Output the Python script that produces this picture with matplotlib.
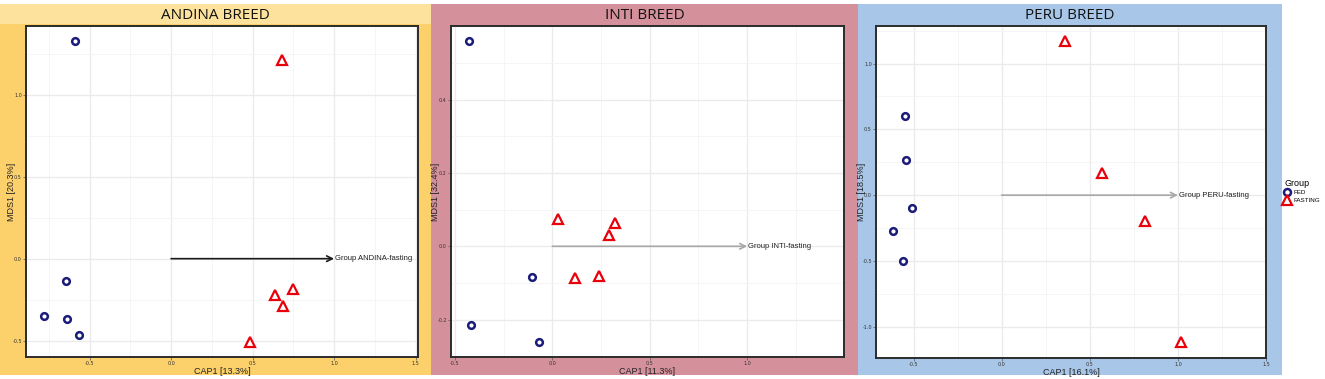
import matplotlib
matplotlib.use("Agg")
import matplotlib.pyplot as plt
from matplotlib.patches import Rectangle
from matplotlib.lines import Line2D
import numpy as np

W, H = 1325, 379

# data
breeds = ["ANDINA", "INTI", "PERU"]
cap_pct = ["13.3%", "11.3%", "16.1%"]
mds_pct = ["20.3%", "32.4%", "18.5%"]

andina_fed_x = [-0.589, -0.644, -0.781, -0.638, -0.566]
andina_fed_y = [1.327, -0.138, -0.352, -0.370, -0.465]
andina_fast_x = [0.683, 0.638, 0.746, 0.687, 0.487]
andina_fast_y = [1.215, -0.222, -0.187, -0.289, -0.506]

inti_fed_x = [-0.429, -0.106, -0.419, -0.068]
inti_fed_y = [0.559, -0.083, -0.214, -0.262]
inti_fast_x = [0.031, 0.320, 0.292, 0.116, 0.238]
inti_fast_y = [0.074, 0.063, 0.031, -0.087, -0.081]

peru_fed_x = [-0.549, -0.543, -0.511, -0.615, -0.562]
peru_fed_y = [0.603, 0.264, -0.097, -0.274, -0.500]
peru_fast_x = [0.361, 0.567, 0.813, 1.019]
peru_fast_y = [1.170, 0.168, -0.197, -1.115]

arrow_len = [1.0, 1.0, 1.0]

panels = [
    dict(fed=(andina_fed_x, andina_fed_y), fast=(andina_fast_x, andina_fast_y),
         bg=(0, 431), ax=(26, 26, 418, 357), xlim=(-0.89, 1.515), ylim=(-0.60, 1.42),
         xt=[-0.5, 0.0, 0.5, 1.0, 1.5], yt=[-0.5, 0.0, 0.5, 1.0],
         color="#FCD06A", strip="#FDE29E", arrow="#1a1a1a"),
    dict(fed=(inti_fed_x, inti_fed_y), fast=(inti_fast_x, inti_fast_y),
         bg=(431, 858), ax=(451, 26, 844, 357), xlim=(-0.52, 1.497), ylim=(-0.302, 0.601),
         xt=[-0.5, 0.0, 0.5, 1.0], yt=[-0.2, 0.0, 0.2, 0.4],
         color="#D4909B", strip="#D4909B", arrow="#A8A8A8"),
    dict(fed=(peru_fed_x, peru_fed_y), fast=(peru_fast_x, peru_fast_y),
         bg=(858, 1282), ax=(876, 26, 1266, 358), xlim=(-0.713, 1.5), ylim=(-1.237, 1.285),
         xt=[-0.5, 0.0, 0.5, 1.0, 1.5], yt=[-1.0, -0.5, 0.0, 0.5, 1.0],
         color="#A7C6E8", strip="#A7C6E8", arrow="#A8A8A8"),
]

fed_col = "#1B1B7A"
fast_col = "#E8000B"


def px_rect(x0, y0, x1, y1):
    return [x0 / W, 1 - y1 / H, (x1 - x0) / W, (y1 - y0) / H]


fig = plt.figure(figsize=(W / 100, H / 100), dpi=100)
fig.patch.set_facecolor("white")

for i, p in enumerate(panels):
    bx0, bx1 = p["bg"]
    fig.patches.append(Rectangle((bx0 / W, 1 - 375 / H), (bx1 - bx0) / W, 371 / H,
                                 transform=fig.transFigure, facecolor=p["color"],
                                 edgecolor="none", zorder=-10))
    fig.patches.append(Rectangle((bx0 / W, 1 - 24 / H), (bx1 - bx0) / W, 20 / H,
                                 transform=fig.transFigure, facecolor=p["strip"],
                                 edgecolor="none", zorder=-9))
    fig.text((bx0 + bx1) / 2 / W, 1 - 15.5 / H, breeds[i] + " BREED", ha="center",
             va="center", fontsize=11, family="Open Sans", color="#111111")

    ax = fig.add_axes(px_rect(*p["ax"]))
    ax.set_zorder(1)
    ax.set_facecolor("white")
    xt = np.array(p["xt"])
    yt = np.array(p["yt"])
    ax.set_xticks(xt)
    ax.set_yticks(yt)
    dx = (xt[1] - xt[0]) / 2
    dy = (yt[1] - yt[0]) / 2
    ax.set_xticks(np.concatenate([xt[:1] - dx, xt + dx]), minor=True)
    ax.set_yticks(np.concatenate([yt[:1] - dy, yt + dy]), minor=True)
    ax.set_xlim(*p["xlim"])
    ax.set_ylim(*p["ylim"])
    ax.set_xticklabels([f"{v:.1f}" for v in p["xt"]])
    ax.set_yticklabels([f"{v:.1f}" for v in p["yt"]])
    ax.grid(which="major", color="#EBEBEB", linewidth=1.0)
    ax.grid(which="minor", color="#F4F4F4", linewidth=0.6)
    ax.set_axisbelow(True)
    ax.tick_params(which="major", length=2, width=0.5, color="#555555", labelsize=3.5,
                   pad=1.0, labelcolor="#333333")
    ax.tick_params(which="minor", length=0)
    for s in ax.spines.values():
        s.set_linewidth(1.4)
        s.set_color("#2b2b2b")

    ax.annotate("", xy=(arrow_len[i], 0), xytext=(0, 0),
                arrowprops=dict(arrowstyle="->", color=p["arrow"], lw=1.2,
                                mutation_scale=10, shrinkA=0, shrinkB=0))
    ax.text(arrow_len[i] + 0.005, 0, "Group " + breeds[i] + "-fasting", fontsize=5.5,
            family="Liberation Sans", va="center", ha="left", color="#222222")

    ax.plot(p["fed"][0], p["fed"][1], linestyle="none", marker="o", markersize=4.8,
            markerfacecolor="white", markeredgecolor=fed_col, markeredgewidth=1.8)
    ax.plot(p["fast"][0], p["fast"][1], linestyle="none", marker="^", markersize=6.8,
            markerfacecolor="white", markeredgecolor=fast_col, markeredgewidth=1.6)

    aw = p["ax"][2] - p["ax"][0]
    ah = p["ax"][3] - p["ax"][1]
    ax.set_xlabel("CAP1 [" + cap_pct[i] + "]", fontsize=6.5, family="Liberation Sans",
                  color="#222222")
    ax.set_ylabel("MDS1 [" + mds_pct[i] + "]", fontsize=6.5, family="Liberation Sans",
                  color="#222222")
    ax.xaxis.set_label_coords(0.5, -14.5 / ah)
    ax.yaxis.set_label_coords(-15 / aw, 0.5)
    ax.xaxis.label.set_va("center")
    ax.yaxis.label.set_va("center")

handles = [
    Line2D([], [], linestyle="none", marker="o", markersize=5, markerfacecolor="white",
           markeredgecolor=fed_col, markeredgewidth=1.8, label="FED"),
    Line2D([], [], linestyle="none", marker="^", markersize=7, markerfacecolor="white",
           markeredgecolor=fast_col, markeredgewidth=1.6, label="FASTING"),
]
leg = fig.legend(handles=handles, title="Group", loc="upper left",
                 bbox_to_anchor=(1283 / W, 1 - 178 / H), frameon=False,
                 prop={"family": "Liberation Sans", "size": 4.5},
                 handlelength=1.0, handletextpad=0.4, labelspacing=0.3,
                 borderaxespad=0, borderpad=0.2)
leg.get_title().set_fontsize(6.5)
leg.get_title().set_family("Liberation Sans")
leg._legend_box.align = "left"

fig.savefig("out.png", dpi=100)
